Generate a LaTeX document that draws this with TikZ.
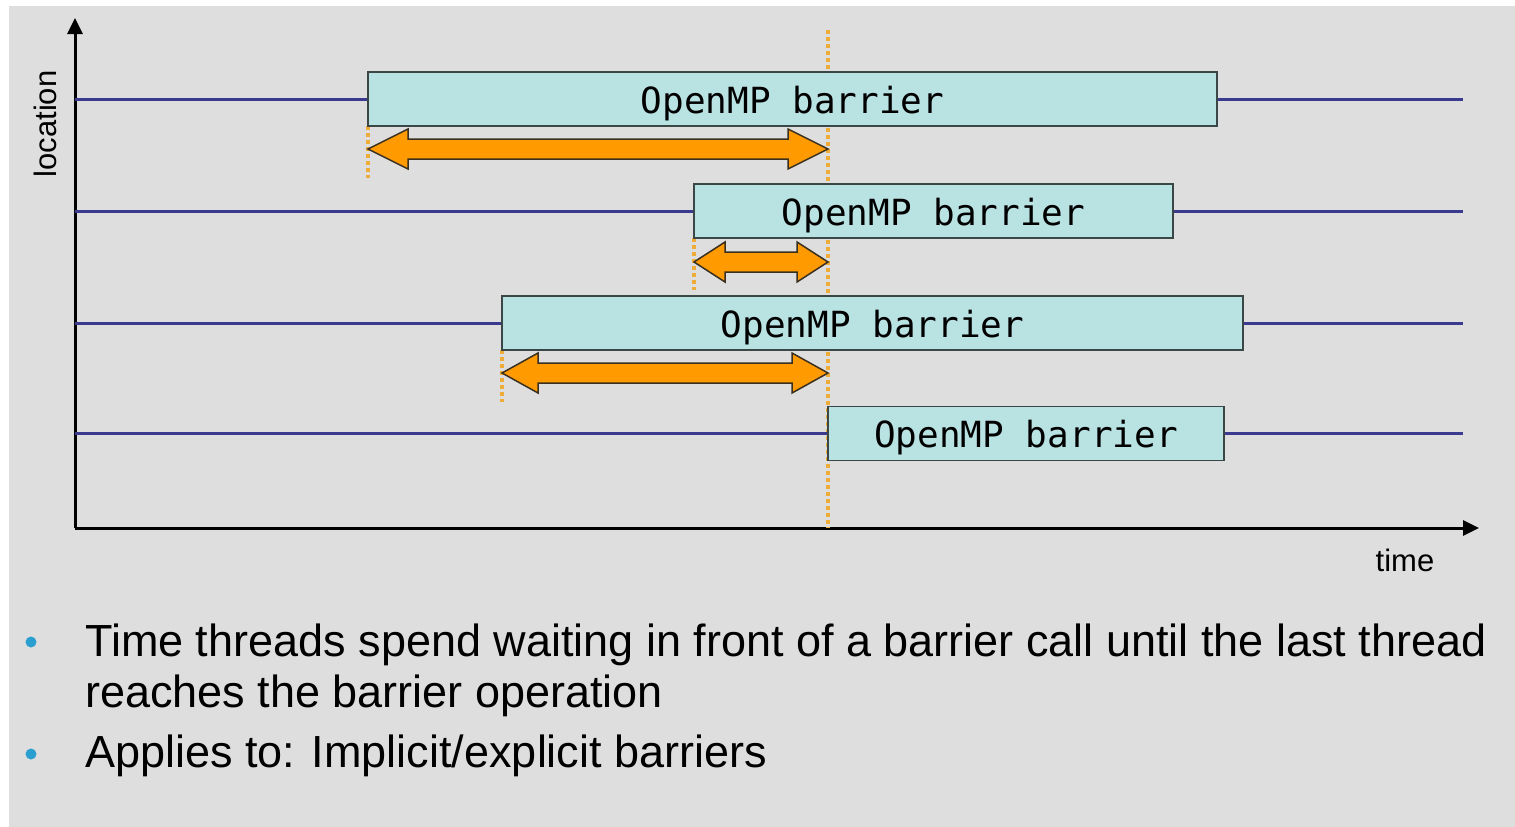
\documentclass[tikz,border=0pt]{standalone}
\usepackage{fontspec}
\setmainfont{Liberation Sans}
\newfontfamily\barfont{DejaVu Sans Mono}
\usetikzlibrary{arrows.meta}

\definecolor{slidebg}{HTML}{DEDEDE}
\definecolor{barfill}{HTML}{B9E2E3}
\definecolor{barline}{HTML}{3B4747}
\definecolor{threadblue}{HTML}{3A3A8E}
\definecolor{waitorange}{HTML}{FF9A00}
\definecolor{waitline}{HTML}{3A3020}
\definecolor{dotorange}{HTML}{EEAC38}
\definecolor{bulletblue}{HTML}{2A9FD0}

% fat double arrow: left x, right x, centre y, head length
\newcommand{\waitarrow}[4]{%
  \draw[waitstyle] (#1,#3) -- ({#1+#4},{#3-20}) -- ({#1+#4},{#3-10})
    -- ({#2-#4},{#3-10}) -- ({#2-#4},{#3-20}) -- (#2,#3)
    -- ({#2-#4},{#3+20}) -- ({#2-#4},{#3+10}) -- ({#1+#4},{#3+10})
    -- ({#1+#4},{#3+20}) -- cycle;}

\begin{document}
\begin{tikzpicture}[x=1pt,y=-1pt,
    barrier/.style={draw=barline,line width=1.5pt,fill=barfill,inner sep=0pt,
      minimum height=54pt,text height=30pt,text depth=2pt,
      font=\barfont\fontsize{36}{40}\selectfont},
    thread/.style={threadblue,line width=3pt},
    axis/.style={black,line width=3pt,-{Triangle[length=16pt,width=15pt]}},
    waitstyle/.style={fill=waitorange,draw=waitline,line width=1.5pt,line join=miter},
    marker/.style={dotorange,line width=3.5pt,dash pattern=on 4pt off 3pt},
    bullettext/.style={anchor=base west,inner sep=0pt,font=\fontsize{45}{50}\selectfont}]
  \useasboundingbox (0,0) rectangle (1515,827);
  \fill[slidebg] (9,6) rectangle (1515,827);

  % axes
  \coordinate (origin) at (75,528);
  \coordinate (ytip) at (75,18);
  \coordinate (xtip) at (1479,528);
  \draw[axis] (origin) -- (ytip);
  \draw[axis] (origin) -- (xtip);
  \node[rotate=90,font=\fontsize{31}{34}\selectfont] (loc) at (45,124) {location};
  \node[font=\fontsize{31}{34}\selectfont] (time) at (1405,560) {time};

  % barrier end marker
  \draw[marker] (828,30) -- (828,528);
  \draw[marker] (368,126) -- (368,178);
  \draw[marker] (694,238) -- (694,290);
  \draw[marker] (502,350) -- (502,402);

  % threads
  \node[barrier,minimum width=849pt] (b1) at (792.5,99) {OpenMP barrier};
  \node[barrier,minimum width=479pt] (b2) at (933.5,211) {OpenMP barrier};
  \node[barrier,minimum width=741pt] (b3) at (872.5,323) {OpenMP barrier};
  \node[barrier,minimum width=396pt] (b4) at (1026,433.5) {OpenMP barrier};
  \foreach \b/\y in {b1/99,b2/211,b3/323,b4/433.5}{
    \coordinate (\b s) at (75,\y);
    \coordinate (\b e) at (1463,\y);
    \draw[thread] (\b s) -- (\b.west);
    \draw[thread] (\b.east) -- (\b e);
  }

  % waiting time
  \waitarrow{368}{828}{149}{40}
  \waitarrow{694}{828}{262}{31}
  \waitarrow{502}{828}{373}{36}

  % bullets
  \fill[bulletblue] (31,642) circle[radius=5.5pt];
  \fill[bulletblue] (31,754) circle[radius=5.5pt];
  \node[bullettext] (t1) at (85,656) {Time threads spend waiting in front of a barrier call until the last thread};
  \node[bullettext] (t2) at (85,707) {reaches the barrier operation};
  \node[bullettext] (t3) at (85,767) {Applies to: Implicit/explicit barriers};
\end{tikzpicture}
\end{document}
